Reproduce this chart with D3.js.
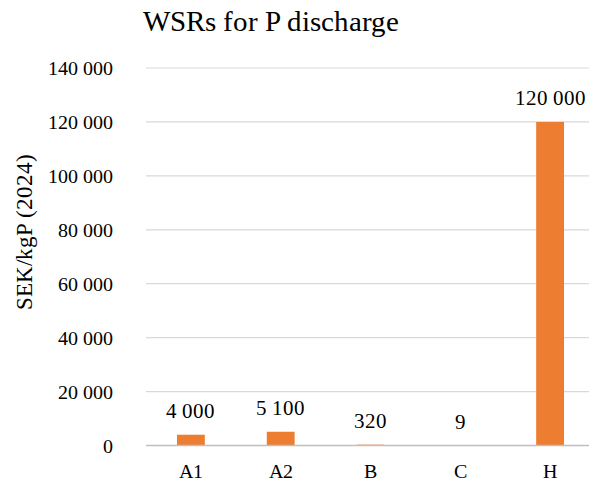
<!DOCTYPE html>
<html>
<head>
<meta charset="utf-8">
<script src="https://cdn.jsdelivr.net/npm/d3@7"></script>
<style>
  @font-face {
    font-family: "ChartSerif";
    src: local("Liberation Serif"), local("LiberationSerif"), local("LiberationSerif-Regular"), local("Times New Roman");
  }
  body { margin: 0; background: #fff; }
  #wrap { position: relative; width: 589px; height: 483px; }
  #chart { position: absolute; left: 0; top: 0; display: block; }
</style>
</head>
<body>
<div id="wrap">
  <svg id="chart"></svg>
  <div id="labels"></div>
</div>
<script>
// ---------------------------- DATA ----------------------------
const categories = ["A1", "A2", "B", "C", "H"];
const values = [4000, 5100, 320, 9, 120000];
const yTicks = [0, 20000, 40000, 60000, 80000, 100000, 120000, 140000];

const chartTitle = "WSRs for P discharge";
const yTitle = "SEK/kgP (2024)";

// ---------------------------- SETUP ----------------------------
const width = 589;
const height = 483;
const barColour = "#ED7D31";
const fontStack = "ChartSerif, 'Times New Roman', 'Liberation Serif', serif";
const ascent = 0.8375; // baseline offset inside a line-height:1 box

const svg = d3.select("#chart")
    .attr("width", width)
    .attr("height", height);
const labels = d3.select("#labels");

// Swedish style number format, space as thousands separator
const locale = d3.formatLocale({ decimal: ",", thousands: " ", grouping: [3], currency: ["", " kr"] });
const fmt = locale.format(",d");

const x = d3.scaleBand()
    .domain(categories)
    .range([146, 595])
    .paddingInner(0.69)
    .paddingOuter(0.345);

const y = d3.scaleLinear()
    .domain([0, 140000])
    .range([445.5, 68]);

// places a label so its baseline sits at (px, py)
function addLabel(txt, px, py, size, anchor, rotate) {
    const shift = anchor === "middle" ? "-50%" : anchor === "end" ? "-100%" : "0";
    const tf = (rotate ? "rotate(" + rotate + "deg) " : "") + "translate(" + shift + ", -" + ascent + "em)";
    labels.append("div")
        .attr("style", "position:absolute;left:" + px + "px;top:" + py + "px;" +
            "font-family:" + fontStack + " !important;font-size:" + size + "px;" +
            "line-height:1;white-space:nowrap;color:#000;transform-origin:0 0;transform:" + tf + ";")
        .text(txt);
}

// ---------------------------- DRAW ----------------------------
// Gridlines
svg.append("g")
    .selectAll("line")
    .data(yTicks.filter(d => d > 0))
    .enter()
    .append("line")
    .attr("x1", 146)
    .attr("x2", width)
    .attr("y1", d => y(d))
    .attr("y2", d => y(d))
    .attr("stroke", "#D9D9D9")
    .attr("stroke-width", 1.2);

// Bars
svg.append("g")
    .selectAll("rect")
    .data(values)
    .enter()
    .append("rect")
    .attr("x", (d, i) => x(categories[i]))
    .attr("width", x.bandwidth())
    .attr("y", d => y(d))
    .attr("height", d => y(0) - y(d))
    .attr("fill", barColour);

// Baseline
svg.append("line")
    .attr("x1", 146)
    .attr("x2", width)
    .attr("y1", y(0))
    .attr("y2", y(0))
    .attr("stroke", "#BFBFBF")
    .attr("stroke-width", 1.3);

// Y tick labels
yTicks.forEach(t => addLabel(fmt(t), 113, y(t) + 7, 19.5, "end"));

// X category labels
categories.forEach(c => addLabel(c, x(c) + x.bandwidth() / 2, y(0) + 32.5, 19.5, "middle"));

// Data labels
values.forEach((v, i) => addLabel(fmt(v), x(categories[i]) + x.bandwidth() / 2, y(v) - 15.5, 21, "middle"));

// Title
addLabel(chartTitle, 271, 31, 29, "middle");

// Y axis title
addLabel(yTitle, 32, 232, 23, "middle", -90);
</script>
</body>
</html>
